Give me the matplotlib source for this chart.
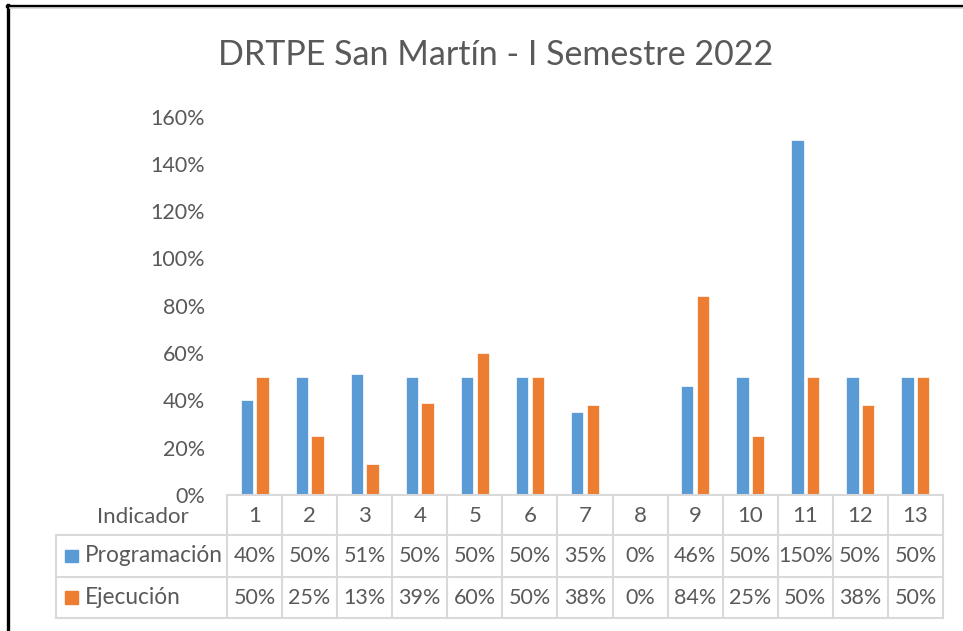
import matplotlib
matplotlib.use("Agg")
import matplotlib.pyplot as plt
from matplotlib.lines import Line2D
from matplotlib.patches import Rectangle
from matplotlib.transforms import blended_transform_factory
import numpy as np

categories = ["1", "2", "3", "4", "5", "6", "7", "8", "9", "10", "11", "12", "13"]
programacion = [0.40, 0.50, 0.51, 0.50, 0.50, 0.50, 0.35, 0.00, 0.46, 0.50, 1.50, 0.50, 0.50]
ejecucion = [0.50, 0.25, 0.13, 0.39, 0.60, 0.50, 0.38, 0.00, 0.84, 0.25, 0.50, 0.38, 0.50]
series_names = ["Programación", "Ejecución"]
yticks = [0, 0.2, 0.4, 0.6, 0.8, 1.0, 1.2, 1.4, 1.6]
title = "DRTPE San Martín - I Semestre 2022"
row_header = "Indicador"

BLUE = "#5B9BD5"
ORANGE = "#ED7D31"
TXT = "#595959"
GRID = "#D9D9D9"
FONT = ["Lato", "DejaVu Sans"]

W, H = 963, 631
fig = plt.figure(figsize=(W / 100, H / 100), dpi=100)
plt.rcParams["font.family"] = FONT

def fx(px):
    return px / W

def fy(py):
    return 1 - py / H

ax_left, ax_right, ax_bottom, ax_top = 227, 943, 495, 116.6
ax = fig.add_axes([fx(ax_left), fy(ax_bottom), fx(ax_right - ax_left), (ax_bottom - ax_top) / H])

x = np.arange(len(categories))
bw = 0.223
off = 0.142
ax.bar(x - off, programacion, bw, color=BLUE, edgecolor="white", linewidth=0.5)
ax.bar(x + off, ejecucion, bw, color=ORANGE, edgecolor="white", linewidth=0.5)
ax.set_xlim(-0.5, len(categories) - 0.5)
ax.set_ylim(0, 1.6)
ax.set_yticks(yticks)
ax.set_yticklabels([f"{v:.0%}" for v in yticks])
ax.tick_params(axis="y", length=0, pad=16, labelsize=15.5, labelcolor=TXT)
ax.tick_params(axis="x", length=0, labelbottom=False)
for s in ax.spines.values():
    s.set_visible(False)

fig.text(fx(496), fy(55), title, ha="center", va="center", fontsize=24.5, color=TXT)

# data table
bt = blended_transform_factory(ax.transData, fig.transFigure)
rows_y = [495, 535, 577, 618]
tbl_left = 56
lw = 1.5
fs = 15.5
fig.add_artist(Line2D([-0.5, len(categories) - 0.5], [fy(rows_y[0])] * 2, transform=bt,
                      color=GRID, lw=lw, clip_on=False))
for ry in rows_y[1:]:
    fig.add_artist(Line2D([fx(tbl_left), fx(ax_right)], [fy(ry)] * 2, transform=fig.transFigure,
                          color=GRID, lw=lw, clip_on=False))
for i in range(len(categories) + 1):
    fig.add_artist(Line2D([i - 0.5, i - 0.5], [fy(rows_y[0]), fy(rows_y[3])], transform=bt,
                          color=GRID, lw=lw, clip_on=False))
fig.add_artist(Line2D([fx(tbl_left)] * 2, [fy(rows_y[1]), fy(rows_y[3])], transform=fig.transFigure,
                      color=GRID, lw=lw, clip_on=False))

fig.text(fx(143), fy(517), row_header, ha="center", va="center", fontsize=16, color=TXT)
for i, c in enumerate(categories):
    fig.text(i, fy(516), c, transform=bt, ha="center", va="center", fontsize=16, color=TXT)

for r, (name, vals, col) in enumerate([(series_names[0], programacion, BLUE),
                                        (series_names[1], ejecucion, ORANGE)]):
    cy = (rows_y[r + 1] + rows_y[r + 2]) / 2
    sq = 12.5
    fig.add_artist(Rectangle((fx(65), fy(cy + sq / 2)), sq / W, sq / H, transform=fig.transFigure,
                             color=col, clip_on=False))
    fig.text(fx(85), fy(cy), name, ha="left", va="center", fontsize=16.3, color=TXT)
    for i, v in enumerate(vals):
        fig.text(i, fy(cy), f"{v:.0%}", transform=bt, ha="center", va="center",
                 fontsize=fs, color=TXT)

# outer frame (top and left)
fig.add_artist(Line2D([fx(7), 1], [fy(5.5)] * 2, transform=fig.transFigure, color="black", lw=2.4))
fig.add_artist(Line2D([fx(8.3)] * 2, [fy(4.5), 0], transform=fig.transFigure, color="black", lw=2.4))
fig.add_artist(Line2D([fx(10), 1], [fy(8)] * 2, transform=fig.transFigure, color="#DDDDDD", lw=1.2))

fig.savefig("out.png", dpi=100, facecolor="white")
